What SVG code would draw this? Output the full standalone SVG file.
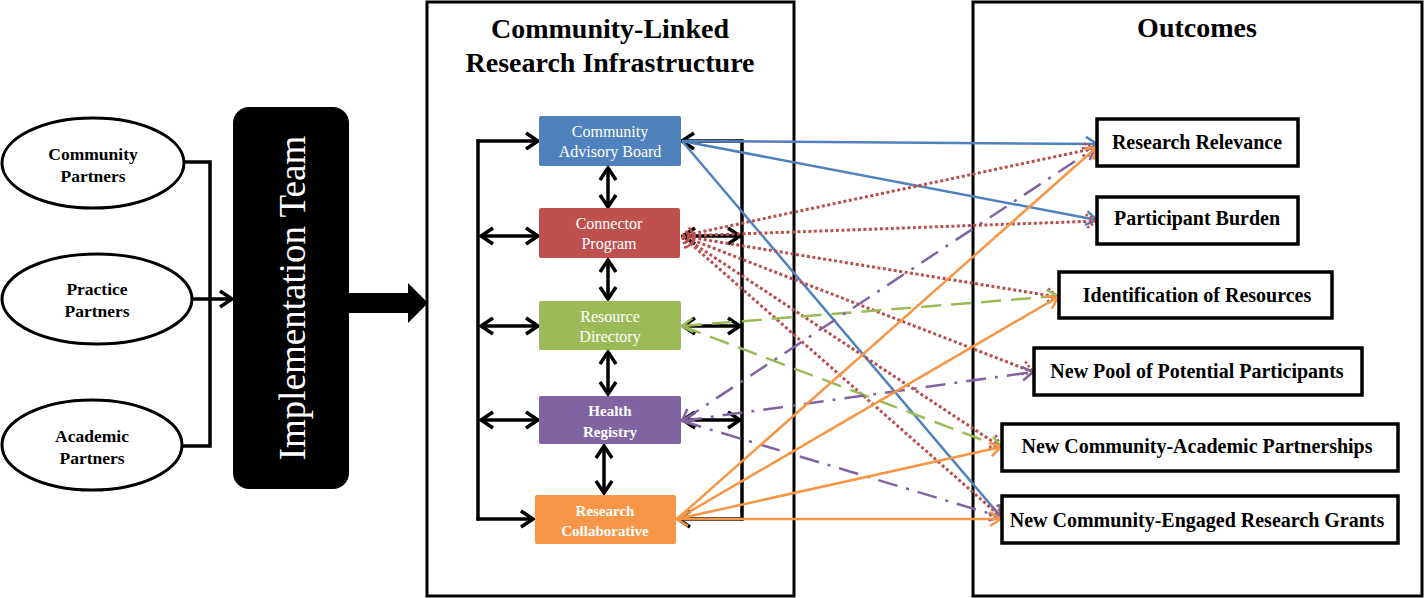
<svg xmlns="http://www.w3.org/2000/svg" width="1425" height="598" viewBox="0 0 1425 598">
<style>
.bg{fill:#fff}
.panel{fill:none;stroke:#000;stroke-width:3}
.ell{fill:#fff;stroke:#000;stroke-width:3}
.obox{fill:#fff;stroke:#000;stroke-width:3.5}
.blk{stroke:#000;stroke-width:3.5;fill:none}
.t-ell{font-family:"Liberation Serif","Times New Roman",serif;font-weight:bold;font-size:17.5px;fill:#000;text-anchor:middle}
.t-title{font-family:"Liberation Serif","Times New Roman",serif;font-weight:bold;font-size:28px;fill:#000;text-anchor:middle}
.t-out{font-family:"Liberation Serif","Times New Roman",serif;font-weight:bold;font-size:20px;fill:#000;text-anchor:middle}
.t-box{font-family:"Liberation Serif","Times New Roman",serif;font-size:16px;fill:#fff;text-anchor:middle}
.t-boxb{font-family:"Liberation Serif","Times New Roman",serif;font-weight:bold;font-size:15px;fill:#fff;text-anchor:middle}
.t-impl{font-family:"Liberation Serif","Times New Roman",serif;font-size:37px;fill:#fff;text-anchor:middle}
.blue{stroke:#4F81BD;stroke-width:2.5;fill:none}
.red{stroke:#B9504D;stroke-width:3;fill:none;stroke-dasharray:3 2.5}
.green{stroke:#9BBB59;stroke-width:2.5;fill:none;stroke-dasharray:20 10}
.purple{stroke:#8064A2;stroke-width:2.5;fill:none;stroke-dasharray:20 9 3 9}
.orange{stroke:#F79646;stroke-width:2.5;fill:none}
</style>
<defs>
<marker id="mk" viewBox="-15 -10 17 20" markerWidth="17" markerHeight="20" refX="0" refY="0" markerUnits="userSpaceOnUse" orient="auto-start-reverse"><path d="M-12,-8 L0,0 L-12,8" fill="none" stroke="#000" stroke-width="3.5"/></marker>
<marker id="mb" viewBox="-14 -9 16 18" markerWidth="16" markerHeight="18" refX="0" refY="0" markerUnits="userSpaceOnUse" orient="auto-start-reverse"><path d="M-11,-7 L0,0 L-11,7" fill="none" stroke="#4F81BD" stroke-width="2.5"/></marker>
<marker id="mr" viewBox="-14 -9 16 18" markerWidth="16" markerHeight="18" refX="0" refY="0" markerUnits="userSpaceOnUse" orient="auto-start-reverse"><path d="M-11,-7 L0,0 L-11,7" fill="none" stroke="#B9504D" stroke-width="2.5" stroke-dasharray="2.5 2"/></marker>
<marker id="mg" viewBox="-14 -9 16 18" markerWidth="16" markerHeight="18" refX="0" refY="0" markerUnits="userSpaceOnUse" orient="auto-start-reverse"><path d="M-11,-7 L0,0 L-11,7" fill="none" stroke="#9BBB59" stroke-width="2.5"/></marker>
<marker id="mp" viewBox="-14 -9 16 18" markerWidth="16" markerHeight="18" refX="0" refY="0" markerUnits="userSpaceOnUse" orient="auto-start-reverse"><path d="M-11,-7 L0,0 L-11,7" fill="none" stroke="#8064A2" stroke-width="2.5"/></marker>
<marker id="mo" viewBox="-14 -9 16 18" markerWidth="16" markerHeight="18" refX="0" refY="0" markerUnits="userSpaceOnUse" orient="auto-start-reverse"><path d="M-11,-7 L0,0 L-11,7" fill="none" stroke="#F79646" stroke-width="2.5"/></marker>
</defs>
<rect class="bg" x="0" y="0" width="1425" height="598"/>

<g id="panel-infrastructure">
<rect class="panel" x="427" y="2" width="367" height="594"/>
<text class="t-title" x="610" y="38">Community-Linked</text>
<text class="t-title" x="610" y="72">Research Infrastructure</text>
</g>
<g id="panel-outcomes">
<rect class="panel" x="973" y="2" width="449" height="594"/>
<text class="t-title" x="1197" y="37">Outcomes</text>
</g>

<g id="connectors">
<!-- left partners bracket -->
<path class="blk" d="M185,162 H210 V446 H183"/>
<line class="blk" x1="193" y1="299" x2="232" y2="299" marker-end="url(#mk)"/>
<polygon points="349,293 408,293 408,283 428,303 408,323 408,313 349,313" fill="#000"/>
<!-- infrastructure left bracket -->
<line class="blk" x1="478" y1="139.5" x2="478" y2="520.5"/>
<line class="blk" x1="476.5" y1="141" x2="538" y2="141" marker-end="url(#mk)"/>
<line class="blk" x1="481" y1="236" x2="538" y2="236" marker-start="url(#mk)" marker-end="url(#mk)"/>
<line class="blk" x1="481" y1="326" x2="538" y2="326" marker-start="url(#mk)" marker-end="url(#mk)"/>
<line class="blk" x1="481" y1="420" x2="538" y2="420" marker-start="url(#mk)" marker-end="url(#mk)"/>
<line class="blk" x1="476.5" y1="519" x2="533" y2="519" marker-end="url(#mk)"/>
<!-- vertical between boxes -->
<line class="blk" x1="608" y1="168" x2="608" y2="207" marker-start="url(#mk)" marker-end="url(#mk)"/>
<line class="blk" x1="608" y1="260" x2="608" y2="299" marker-start="url(#mk)" marker-end="url(#mk)"/>
<line class="blk" x1="608" y1="352" x2="608" y2="394" marker-start="url(#mk)" marker-end="url(#mk)"/>
<line class="blk" x1="604" y1="446" x2="604" y2="493" marker-start="url(#mk)" marker-end="url(#mk)"/>
<!-- infrastructure right bracket -->
<line class="blk" x1="742" y1="139.5" x2="742" y2="520.5"/>
<line class="blk" x1="743.5" y1="141" x2="682" y2="141" marker-end="url(#mk)"/>
<line class="blk" x1="683" y1="236" x2="740" y2="236" marker-start="url(#mk)" marker-end="url(#mk)"/>
<line class="blk" x1="683" y1="326" x2="740" y2="326" marker-start="url(#mk)" marker-end="url(#mk)"/>
<line class="blk" x1="683" y1="420" x2="740" y2="420" marker-start="url(#mk)" marker-end="url(#mk)"/>
<line class="blk" x1="743.5" y1="519" x2="678" y2="519" marker-end="url(#mk)"/>
<!-- blue: Community Advisory Board -->
<line class="blue" x1="682" y1="141" x2="1097" y2="144" marker-end="url(#mb)"/>
<line class="blue" x1="682" y1="141" x2="1097" y2="220" marker-end="url(#mb)"/>
<line class="blue" x1="682" y1="141" x2="1001" y2="517" marker-end="url(#mb)"/>
<!-- red dotted: Connector Program -->
<line class="red" x1="682" y1="236" x2="1096" y2="148" marker-start="url(#mr)" marker-end="url(#mr)"/>
<line class="red" x1="682" y1="236" x2="1097" y2="221" marker-start="url(#mr)" marker-end="url(#mr)"/>
<line class="red" x1="682" y1="236" x2="1058" y2="297" marker-start="url(#mr)" marker-end="url(#mr)"/>
<line class="red" x1="682" y1="236" x2="1033" y2="372" marker-start="url(#mr)" marker-end="url(#mr)"/>
<line class="red" x1="682" y1="236" x2="1001" y2="447" marker-start="url(#mr)" marker-end="url(#mr)"/>
<line class="red" x1="682" y1="236" x2="1001" y2="517" marker-start="url(#mr)" marker-end="url(#mr)"/>
<!-- green dashed: Resource Directory -->
<line class="green" x1="682" y1="326" x2="1058" y2="296" marker-start="url(#mg)" marker-end="url(#mg)"/>
<line class="green" x1="682" y1="326" x2="1001" y2="447" marker-end="url(#mg)"/>
<!-- purple dash-dot: Health Registry -->
<line class="purple" x1="682" y1="421" x2="1095" y2="148" marker-start="url(#mp)" marker-end="url(#mp)"/>
<line class="purple" x1="682" y1="421" x2="1033" y2="372" marker-end="url(#mp)"/>
<line class="purple" x1="682" y1="421" x2="1001" y2="517" marker-end="url(#mp)"/>
<!-- orange: Research Collaborative -->
<line class="orange" x1="677" y1="519" x2="1097" y2="147" marker-end="url(#mo)"/>
<line class="orange" x1="677" y1="519" x2="1058" y2="297" marker-end="url(#mo)"/>
<line class="orange" x1="677" y1="519" x2="1001" y2="447" marker-end="url(#mo)"/>
<line class="orange" x1="677" y1="519" x2="1001" y2="519" marker-start="url(#mo)" marker-end="url(#mo)"/>
</g>

<g id="node-community-partners">
<ellipse class="ell" cx="93" cy="163" rx="91" ry="45"/>
<text class="t-ell" x="93" y="160">Community</text>
<text class="t-ell" x="93" y="182">Partners</text>
</g>
<g id="node-practice-partners">
<ellipse class="ell" cx="97" cy="299" rx="95" ry="45"/>
<text class="t-ell" x="97" y="295">Practice</text>
<text class="t-ell" x="97" y="317">Partners</text>
</g>
<g id="node-academic-partners">
<ellipse class="ell" cx="92" cy="445" rx="90" ry="45"/>
<text class="t-ell" x="92" y="442">Academic</text>
<text class="t-ell" x="92" y="464">Partners</text>
</g>
<g id="node-implementation-team">
<rect x="233" y="107" width="116" height="382" rx="16" fill="#000"/>
<text class="t-impl" transform="translate(305,298) rotate(-90)" x="0" y="0">Implementation Team</text>
</g>

<g id="node-cab">
<rect x="539" y="116" width="142" height="50" rx="2" fill="#4F81BD"/>
<text class="t-box" x="610" y="137">Community</text>
<text class="t-box" x="610" y="157">Advisory Board</text>
</g>
<g id="node-connector">
<rect x="539" y="208" width="141" height="50" rx="2" fill="#C0504D"/>
<text class="t-box" x="609" y="229">Connector</text>
<text class="t-box" x="609" y="249">Program</text>
</g>
<g id="node-resource">
<rect x="539" y="301" width="142" height="49" rx="2" fill="#9BBB59"/>
<text class="t-box" x="610" y="322">Resource</text>
<text class="t-box" x="610" y="342">Directory</text>
</g>
<g id="node-health">
<rect x="539" y="396" width="142" height="48" rx="2" fill="#8064A2"/>
<text class="t-boxb" x="610" y="416">Health</text>
<text class="t-boxb" x="610" y="437">Registry</text>
</g>
<g id="node-research-collab">
<rect x="535" y="495" width="141" height="49" rx="2" fill="#F79646"/>
<text class="t-boxb" x="605" y="516">Research</text>
<text class="t-boxb" x="605" y="536">Collaborative</text>
</g>

<g id="node-research-relevance">
<rect class="obox" x="1097" y="119" width="201" height="47"/>
<text class="t-out" x="1197" y="149">Research Relevance</text>
</g>
<g id="node-participant-burden">
<rect class="obox" x="1097" y="197" width="201" height="47"/>
<text class="t-out" x="1197" y="225">Participant Burden</text>
</g>
<g id="node-identification">
<rect class="obox" x="1059" y="272" width="273" height="46"/>
<text class="t-out" x="1197" y="302">Identification of Resources</text>
</g>
<g id="node-new-pool">
<rect class="obox" x="1034" y="348" width="328" height="47"/>
<text class="t-out" x="1197" y="378">New Pool of Potential Participants</text>
</g>
<g id="node-partnerships">
<rect class="obox" x="1002" y="424" width="396" height="47"/>
<text class="t-out" x="1197" y="453">New Community-Academic Partnerships</text>
</g>
<g id="node-grants">
<rect class="obox" x="1002" y="496" width="396" height="47"/>
<text class="t-out" x="1197" y="527">New Community-Engaged Research Grants</text>
</g>
</svg>
